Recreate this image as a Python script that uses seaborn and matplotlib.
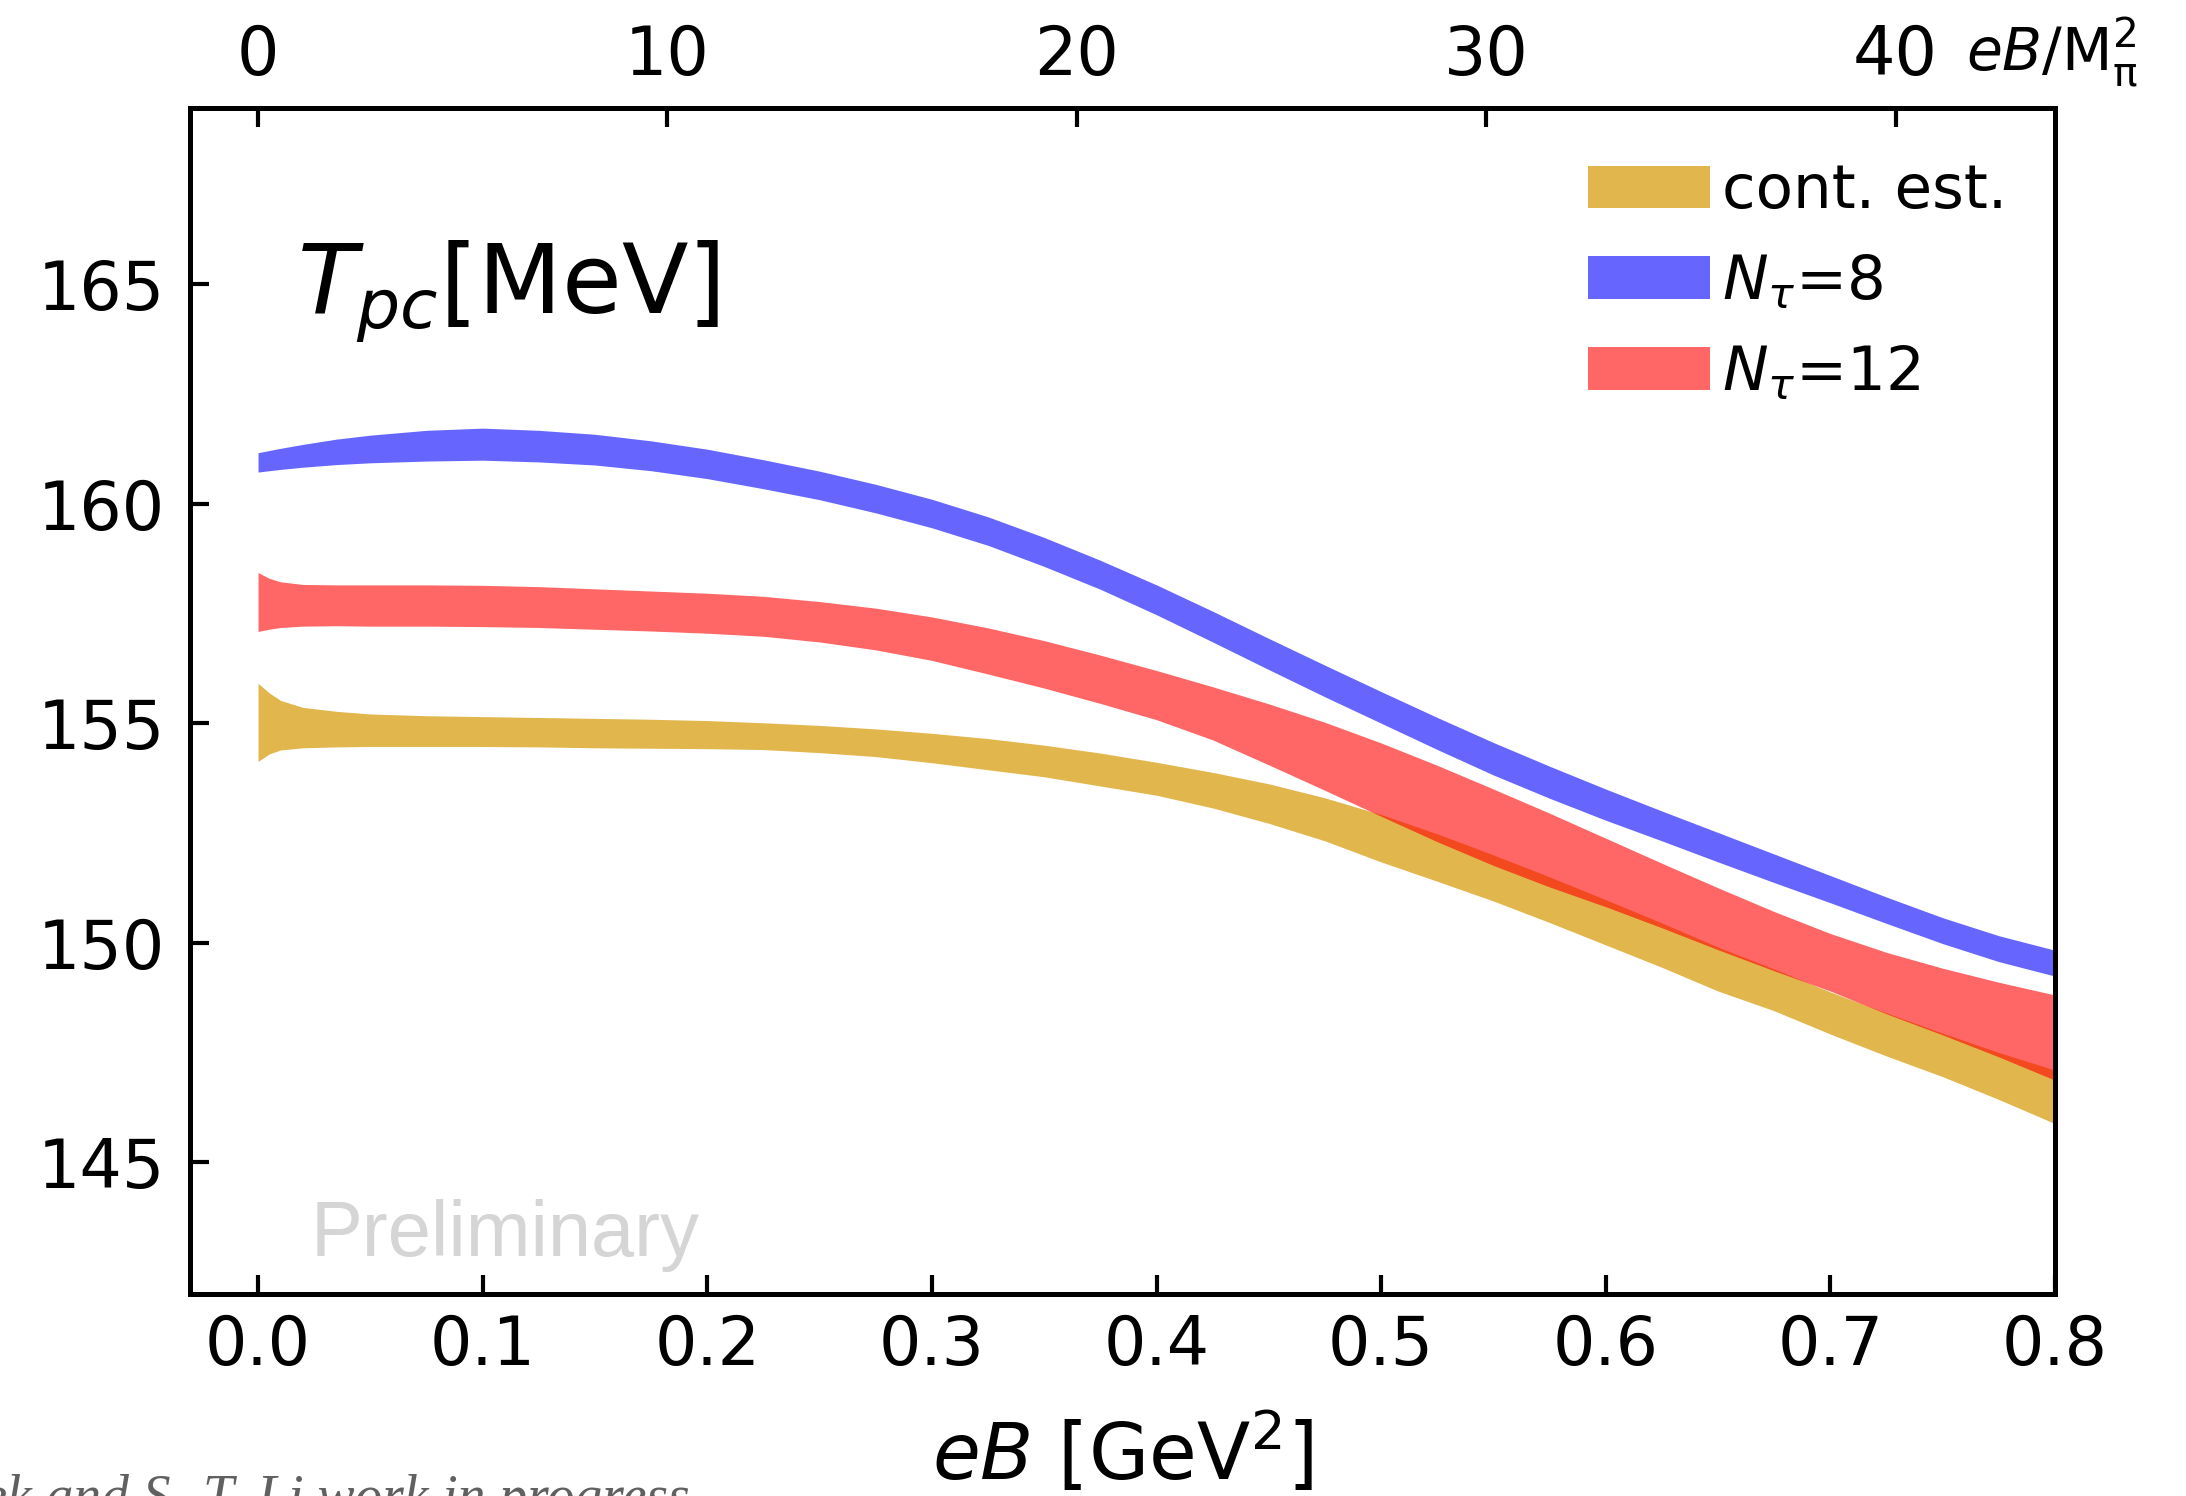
import matplotlib
matplotlib.use("Agg")
import matplotlib.pyplot as plt
from matplotlib.patches import Patch
import pandas as pd
import seaborn as sns

# Magnetic field strength eB in GeV^2
eB = [0.0, 0.005, 0.01, 0.02, 0.035, 0.05, 0.075, 0.1, 0.125, 0.15, 0.175, 0.2,
      0.225, 0.25, 0.275, 0.3, 0.325, 0.35, 0.375, 0.4, 0.425, 0.45, 0.475, 0.5,
      0.525, 0.55, 0.575, 0.6, 0.625, 0.65, 0.675, 0.7, 0.725, 0.75, 0.775, 0.8]

# Continuum estimate band (lower / upper edge) in MeV
cont_lo = [154.13, 154.30, 154.39, 154.44, 154.46, 154.47, 154.47, 154.47, 154.46, 154.44,
           154.43, 154.42, 154.40, 154.33, 154.24, 154.10, 153.94, 153.78, 153.57, 153.36,
           153.07, 152.72, 152.32, 151.84, 151.40, 150.95, 150.46, 149.95, 149.44, 148.90,
           148.45, 147.92, 147.42, 146.95, 146.43, 145.88]
cont_hi = [155.91, 155.69, 155.52, 155.36, 155.27, 155.21, 155.17, 155.15, 155.13, 155.11,
           155.09, 155.06, 155.01, 154.95, 154.87, 154.77, 154.65, 154.50, 154.32, 154.11,
           153.88, 153.62, 153.30, 152.92, 152.48, 152.00, 151.50, 150.98, 150.45, 149.90,
           149.40, 148.88, 148.40, 147.94, 147.50, 147.10]

# N_tau = 8 band
nt8_lo = [160.72, 160.75, 160.78, 160.83, 160.89, 160.93, 160.97, 160.99, 160.95, 160.88,
          160.75, 160.57, 160.34, 160.09, 159.79, 159.45, 159.05, 158.57, 158.05, 157.47,
          156.85, 156.22, 155.60, 155.00, 154.40, 153.82, 153.29, 152.79, 152.32, 151.84,
          151.37, 150.91, 150.44, 149.98, 149.57, 149.24]
nt8_hi = [161.16, 161.21, 161.26, 161.35, 161.47, 161.56, 161.67, 161.72, 161.67, 161.58,
          161.43, 161.24, 161.00, 160.74, 160.44, 160.10, 159.70, 159.23, 158.71, 158.15,
          157.55, 156.93, 156.32, 155.72, 155.13, 154.56, 154.02, 153.50, 153.00, 152.51,
          152.02, 151.53, 151.04, 150.57, 150.16, 149.83]

# N_tau = 12 band
nt12_lo = [157.09, 157.14, 157.18, 157.21, 157.22, 157.21, 157.21, 157.20, 157.18, 157.14,
           157.10, 157.05, 156.98, 156.85, 156.67, 156.43, 156.12, 155.80, 155.45, 155.08,
           154.62, 154.05, 153.47, 152.88, 152.30, 151.76, 151.27, 150.82, 150.34, 149.84,
           149.36, 148.90, 148.38, 147.90, 147.40, 146.87]
nt12_hi = [158.43, 158.30, 158.22, 158.16, 158.15, 158.15, 158.15, 158.14, 158.11, 158.06,
           158.01, 157.96, 157.89, 157.77, 157.62, 157.42, 157.17, 156.88, 156.55, 156.20,
           155.83, 155.44, 155.02, 154.55, 154.04, 153.50, 152.95, 152.38, 151.81, 151.25,
           150.71, 150.21, 149.78, 149.42, 149.10, 148.81]

series_labels = ["cont. est.", r"$N_{\tau}$=8", r"$N_{\tau}$=12"]
series_lo = [cont_lo, nt8_lo, nt12_lo]
series_hi = [cont_hi, nt8_hi, nt12_hi]
series_colors = ["goldenrod", "blue", "red"]
series_alpha = [0.8, 0.6, 0.6]

x_ticks = [0.0, 0.1, 0.2, 0.3, 0.4, 0.5, 0.6, 0.7, 0.8]
y_ticks = [145, 150, 155, 160, 165]
top_ticks = [0, 10, 20, 30, 40]
M_PI = 0.135  # pion mass in GeV

sns.set_theme(style="ticks")
plt.rcParams["font.family"] = ["DejaVu Sans"]
plt.rcParams["mathtext.fontset"] = "dejavusans"
for key in ["text.color", "axes.labelcolor", "xtick.color", "ytick.color",
            "xtick.labelcolor", "ytick.labelcolor"]:
    plt.rcParams[key] = "black"

fig = plt.figure(figsize=(10.93, 7.48), dpi=200)
ax = fig.add_axes([0.0869, 0.135, 0.8532, 0.7925])

# each band is drawn as the min/max interval of its lower and upper edge
for label, lo, hi, color, alpha in zip(series_labels, series_lo, series_hi,
                                       series_colors, series_alpha):
    df = pd.DataFrame({"eB": eB + eB, "T": lo + hi})
    sns.lineplot(data=df, x="eB", y="T", estimator="mean", errorbar=("pi", 100),
                 color=color, linewidth=0, legend=False, ax=ax,
                 err_kws=dict(alpha=alpha, linewidth=0))

ax.set_xlim(-0.0303, 0.8)
ax.set_ylim(142, 169)
ax.set_xticks(x_ticks)
ax.set_xticklabels([f"{t:.1f}" for t in x_ticks])
ax.set_yticks(y_ticks)
ax.set_xlabel(r"$eB$ [GeV$^2$]", fontsize=28, labelpad=11, color="black")
ax.set_ylabel("")

for side in ["left", "right", "top", "bottom"]:
    ax.spines[side].set_visible(True)
    ax.spines[side].set_linewidth(1.8)
    ax.spines[side].set_color("black")

ax.tick_params(axis="x", direction="in", length=7, width=1.5, labelsize=24, pad=7,
               top=False, colors="black")
ax.tick_params(axis="y", direction="in", length=7, width=1.5, labelsize=24, pad=9,
               right=False, colors="black")

# upper axis in units of the squared pion mass
sec = ax.secondary_xaxis("top", functions=(lambda b: b / M_PI**2, lambda m: m * M_PI**2))
sec.set_xticks(top_ticks)
sec.tick_params(axis="x", direction="in", length=7, width=1.5, labelsize=24, pad=7,
                colors="black")
sec.spines["top"].set_linewidth(1.8)
fig.text(0.8994, 0.9532, r"$eB/\mathrm{M}_{\mathrm{\pi}}^{2}$", fontsize=21,
         va="baseline", ha="left", color="black")

ax.text(0.0174, 164.34, r"$T_{pc}$[MeV]", fontsize=35, va="baseline", ha="left",
        color="black")
ax.text(0.0236, 142.86, "Preliminary", fontsize=28, color="#d5d5d5",
        family="Liberation Sans", va="baseline", ha="left")

handles = [Patch(facecolor=c, alpha=a, edgecolor="none")
           for c, a in zip(series_colors, series_alpha)]
leg = ax.legend(handles, series_labels, loc="upper left", bbox_to_anchor=(0.7496, 0.9545),
                frameon=False, fontsize=22, handlelength=2.0, handleheight=0.7,
                handletextpad=0.2, labelspacing=0.52, borderpad=0, borderaxespad=0)
for t in leg.get_texts():
    t.set_color("black")

fig.text(0.316, -0.012, "Kaczmarek and S.-T. Li work in progress", fontsize=20,
         family="Liberation Serif", style="italic", color="#606060",
         ha="right", va="baseline")

fig.savefig("out.png", dpi=200, facecolor="white")
